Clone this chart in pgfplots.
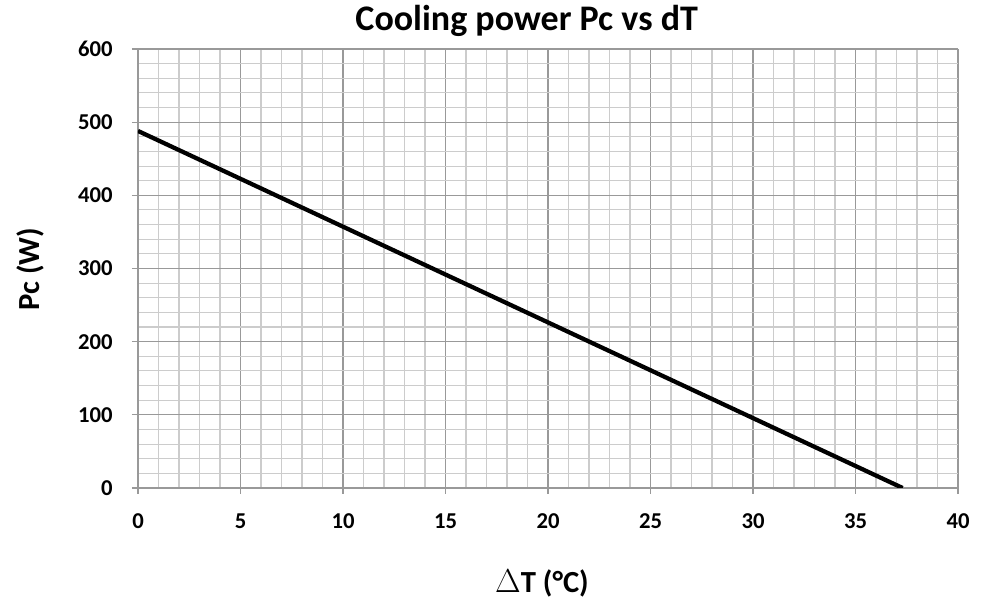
\documentclass[border=0pt]{standalone}
\usepackage{fontspec}
\setmainfont{Carlito}
\usepackage{pgfplots}
\pgfplotsset{compat=1.18}
\begin{document}
\begin{tikzpicture}
\useasboundingbox (-103.5pt,-87.75pt) rectangle (635.25pt,366pt);
\begin{axis}[
  at={(0,0)}, anchor=south west,
  scale only axis,
  width=615pt, height=329.25pt,
  xmin=0, xmax=40, ymin=0, ymax=600,
  xtick={0,5,...,40}, ytick={0,100,...,600},
  minor x tick num=4, minor y tick num=4,
  grid=both,
  major grid style={draw=black!40, line width=0.8pt},
  minor grid style={draw=black!20, line width=0.8pt},
  axis line style={draw=black!40, line width=0.8pt},
  axis x line=bottom, axis y line=left,
  x axis line style={-}, y axis line style={-},
  tick align=outside,
  major tick length=4.5pt, minor tick length=0pt,
  tick style={draw=black!40, line width=0.8pt},
  /pgf/number format/assume math mode=true,
  ticklabel style={font=\bfseries\fontsize{17}{20}\selectfont},
  xticklabel style={yshift=-11pt},
  yticklabel style={xshift=-11pt},
  title={Cooling power Pc vs dT},
  title style={font=\bfseries\fontsize{27}{30}\selectfont, at={(axis description cs:0.474,1)}, anchor=base, yshift=8pt},
  xlabel={$\Delta$T (°C)},
  ylabel={Pc (W)},
  xlabel style={font=\bfseries\fontsize{23}{26}\selectfont, at={(axis description cs:0.4927,-0.239)}, anchor=base},
  ylabel style={font=\bfseries\fontsize{23}{26}\selectfont, at={(axis description cs:-0.1317,0.499)}, anchor=center},
]
\addplot[black, line width=3.2pt] coordinates {(0,488) (37.3,0)};
\end{axis}
\end{tikzpicture}
\end{document}
